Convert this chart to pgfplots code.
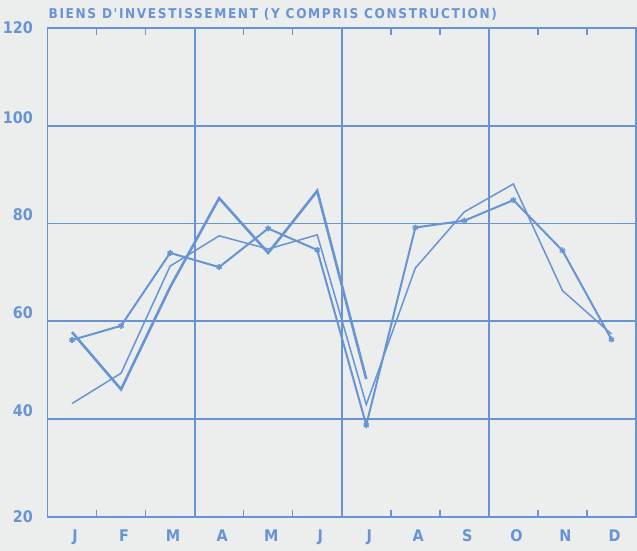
\documentclass[border=0pt]{standalone}
\usepackage{pgfplots}
\pgfplotsset{compat=1.18}
\usepackage{fontspec}
\newfontfamily\plotfont{DejaVu Sans Condensed}
\newfontfamily\titlefont[LetterSpace=12]{DejaVu Sans Condensed}
\definecolor{pen}{RGB}{104,148,212}
\definecolor{paper}{RGB}{236,238,238}
\newcommand\up[1]{\raisebox{8.5pt}[\height][\depth]{#1}}

\begin{document}
\begin{tikzpicture}
\fill[paper, use as bounding box] (-47.5pt,-34pt) rectangle (589.5pt,517pt);
\begin{axis}[
    at={(0,0)}, anchor=south west,
    scale only axis,
    width=588.5pt, height=489pt,
    xmin=0.5, xmax=12.5, ymin=20, ymax=120,
    axis line style={pen, line width=1.8pt},
    tick align=inside,
    xtick pos=both, ytick pos=left,
    major tick length=0pt,
    minor tick length=7pt,
    xtick={1,...,12},
    xticklabels={J,F,M,A,M,J,J,A,S,O,N,D},
    minor xtick={1.5,2.5,4.5,5.5,7.5,8.5,10.5,11.5},
    minor x tick style={pen, line width=1.5pt},
    extra x ticks={3.5,6.5,9.5},
    extra x tick labels={},
    extra x tick style={grid=major},
    ytick={20,40,...,120},
    yticklabels={20,\up{40},\up{60},\up{80},\up{100},120},
    ymajorgrids,
    grid style={pen, line width=1.8pt},
    major grid style={pen, line width=1.8pt},
    xticklabel style={font=\plotfont\bfseries\fontsize{16}{16}\selectfont, text=pen,
        anchor=base, inner sep=0pt, yshift=-24pt, xshift=3pt},
    yticklabel style={font=\plotfont\bfseries\fontsize{16}{16}\selectfont, text=pen,
        anchor=east, inner sep=0pt, xshift=-14.5pt},
    clip=false,
]
% thin series
\addplot[pen, line width=1.5pt] coordinates {
  (1,43.2) (2,49.4) (3,71.3) (4,77.5) (5,74.8) (6,77.7)
  (7,43.0) (8,70.9) (9,82.4) (10,88.1) (11,66.3) (12,57.4)};
% series with marks
\addplot[pen, line width=2.0pt, mark=asterisk, mark size=3pt,
  mark options={line width=1.6pt}] coordinates {
  (1,56.2) (2,59.1) (3,74.0) (4,71.1) (5,79.0) (6,74.6)
  (7,38.8) (8,79.2) (9,80.6) (10,84.8) (11,74.5) (12,56.3)};
% current year, thick, stops in July
\addplot[pen, line width=2.6pt] coordinates {
  (1,57.8) (2,46.1) (3,67.0) (4,85.2) (5,74.0) (6,86.7) (7,48.2)};
\node[anchor=base west, inner sep=0pt, text=pen, font=\titlefont\bfseries\fontsize{13.5}{13.5}\selectfont]
  at (rel axis cs:0,1) [yshift=9pt, xshift=1pt] {BIENS D'INVESTISSEMENT (Y COMPRIS CONSTRUCTION)};
\end{axis}
\end{tikzpicture}
\end{document}
